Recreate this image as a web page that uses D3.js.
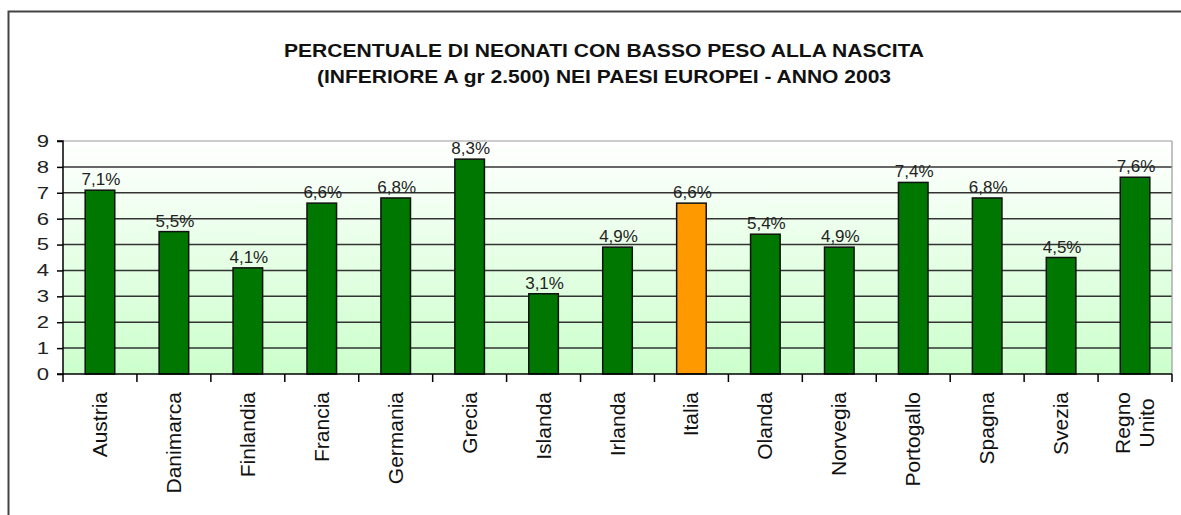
<!DOCTYPE html>
<html><head><meta charset="utf-8">
<script src="https://cdn.jsdelivr.net/npm/d3@7"></script>
<style>
html,body{margin:0;padding:0;background:#fff;}
svg{display:block;font-family:Arial,"Liberation Sans",sans-serif;}
</style></head>
<body>
<svg id="chart" width="1181" height="515"></svg>
<script>
const categories = ["Austria","Danimarca","Finlandia","Francia","Germania","Grecia","Islanda","Irlanda","Italia","Olanda","Norvegia","Portogallo","Spagna","Svezia","Regno Unito"];
const values = [7.1,5.5,4.1,6.6,6.8,8.3,3.1,4.9,6.6,5.4,4.9,7.4,6.8,4.5,7.6];
const valueLabels = ["7,1%","5,5%","4,1%","6,6%","6,8%","8,3%","3,1%","4,9%","6,6%","5,4%","4,9%","7,4%","6,8%","4,5%","7,6%"];
const yTicks = [0,1,2,3,4,5,6,7,8,9];
const highlight = "Italia";
const titleLines = ["PERCENTUALE DI NEONATI CON BASSO PESO ALLA NASCITA","(INFERIORE A gr 2.500) NEI PAESI EUROPEI - ANNO 2003"];

const svg = d3.select("#chart");
const L = 63, R = 1172, T = 141, B = 374;

// outer frame
svg.append("rect").attr("x",8.5).attr("y",11.5).attr("width",1200).attr("height",600)
  .attr("fill","#fff").attr("stroke","#444").attr("stroke-width",2);

// title
svg.append("g").selectAll("text").data(titleLines).join("text")
  .attr("x",604).attr("y",(d,i)=>57+i*26).attr("text-anchor","middle")
  .attr("font-size",19).attr("font-weight","bold").attr("fill","#111")
  .attr("textLength",(d,i)=>i===0?640:574).attr("lengthAdjust","spacingAndGlyphs")
  .text(d=>d);

const x = d3.scaleBand().domain(categories).range([L,R]).paddingInner(0.6).paddingOuter(0.3);
const y = d3.scaleLinear().domain([0,9]).range([B,T]);

// gradient background
const defs = svg.append("defs");
const grad = defs.append("linearGradient").attr("id","bg").attr("x1",0).attr("y1",0).attr("x2",0).attr("y2",1);
grad.append("stop").attr("offset","0%").attr("stop-color","#ffffff");
grad.append("stop").attr("offset","100%").attr("stop-color","#ccffcc");
svg.append("rect").attr("x",L).attr("y",T).attr("width",R-L).attr("height",B-T).attr("fill","url(#bg)");

// gridlines
svg.append("g").selectAll("line").data(yTicks.filter(d=>d>0)).join("line")
  .attr("x1",L).attr("x2",R).attr("y1",d=>y(d)).attr("y2",d=>y(d))
  .attr("stroke",d=>d===9?"#999":"#333").attr("stroke-width",d=>d===9?1.2:1.5);
// right border
svg.append("line").attr("x1",R).attr("x2",R).attr("y1",T).attr("y2",B).attr("stroke","#999").attr("stroke-width",1.2);

// bars
svg.append("g").selectAll("rect").data(categories).join("rect")
  .attr("x",d=>x(d)).attr("width",x.bandwidth())
  .attr("y",(d,i)=>y(values[i])).attr("height",(d,i)=>y(0)-y(values[i]))
  .attr("fill",d=>d===highlight?"#ff9900":"#007700")
  .attr("stroke","#111").attr("stroke-width",1.5);

// value labels
svg.append("g").selectAll("text").data(categories).join("text")
  .attr("x",d=>x(d)+x.bandwidth()/2+1).attr("y",(d,i)=>y(values[i])-5)
  .attr("text-anchor","middle").attr("font-size",17).attr("fill","#222")
  .text((d,i)=>valueLabels[i]);

// y axis
const yAxis = d3.axisLeft(y).tickValues(yTicks).tickSize(6).tickPadding(8).tickFormat(d3.format("d"));
const yg = svg.append("g").attr("transform",`translate(${L},0)`).call(yAxis);
yg.select(".domain").attr("stroke","#000").attr("stroke-width",1.5).attr("d",`M-6,${T}H0V${B}H-6`);
yg.selectAll(".tick line").attr("stroke","#000").attr("stroke-width",1.5);
yg.selectAll(".tick text").attr("font-size",17).attr("fill","#222").attr("font-family","Arial, 'Liberation Sans', sans-serif")
  .attr("transform","scale(1.3,1)").attr("x",-14/1.3);

// x axis line and ticks at band boundaries
const bounds = categories.map(c=>x(c)-x.step()*x.paddingInner()/2);
bounds.push(R);
svg.append("line").attr("x1",L).attr("x2",R).attr("y1",B).attr("y2",B).attr("stroke","#000").attr("stroke-width",1.5);
svg.append("g").selectAll("line").data(bounds).join("line")
  .attr("x1",d=>d).attr("x2",d=>d).attr("y1",B).attr("y2",B+8)
  .attr("stroke","#000").attr("stroke-width",1.5);

// x labels rotated
const labelTop = 392, lineGap = 24;
categories.forEach(c=>{
  const lines = c.split(" ");
  const cx = x(c)+x.bandwidth()/2;
  const g = svg.append("g");
  const texts = lines.map((ln,i)=>g.append("text").attr("font-size",21).attr("fill","#111").text(ln));
  const lens = texts.map(t=>t.node().getComputedTextLength());
  const maxLen = d3.max(lens);
  texts.forEach((t,i)=>{
    const xi = cx + (i-(lines.length-1)/2)*lineGap + 7;
    const yc = labelTop + maxLen/2;
    t.attr("text-anchor","middle").attr("transform",`translate(${xi},${yc}) rotate(-90)`);
  });
});
</script>
</body></html>
